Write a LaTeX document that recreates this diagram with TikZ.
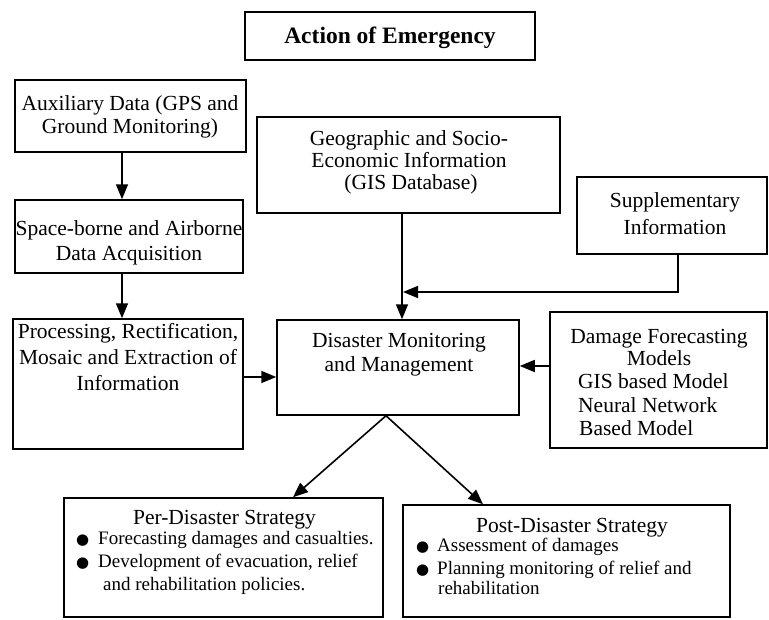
\documentclass[tikz,border=0pt]{standalone}
\usepackage{fontspec}
\setmainfont{Liberation Serif}
\newfontfamily\dejavu{DejaVu Sans}
\usetikzlibrary{arrows.meta}
\newcommand\fa{\fontsize{21.5}{23}\selectfont}
\newcommand\fhd{\fontsize{23.5}{25}\selectfont\bfseries}
\newcommand\fb{\fontsize{19}{22}\selectfont}
\newcommand\bul[1]{\makebox[#1][l]{\dejavu\fontsize{15}{15}\selectfont ●}}
\begin{document}
\begin{tikzpicture}[x=1pt,y=-1pt,
  box/.style={draw,line width=1.5pt,inner sep=0pt,rectangle},
  arr/.style={line width=1.6pt,-{Triangle[length=15pt,width=12pt]}},
  txt/.style={inner sep=0pt,font=\fa,anchor=base},
  ltxt/.style={inner sep=0pt,font=\fa,anchor=base west},
  btxt/.style={inner sep=0pt,font=\fb,anchor=base west}]
\fill[white] (0,0) rectangle (769,619);
\useasboundingbox (0,0) rectangle (769,619);

% boxes
\node[box,minimum width=290pt,minimum height=48pt] (act) at (390,36) {};
\node[box,minimum width=231pt,minimum height=72pt] (aux) at (130.5,116) {};
\node[box,minimum width=228pt,minimum height=73pt] (space) at (129,236.5) {};
\node[box,minimum width=303pt,minimum height=96pt] (geo) at (408.5,165) {};
\node[box,minimum width=190pt,minimum height=77pt] (supp) at (672,215.5) {};
\node[box,minimum width=217pt,minimum height=136pt] (dam) at (658.5,380) {};
\node[box,minimum width=230pt,minimum height=130pt] (proc) at (128,384) {};
\node[box,minimum width=242pt,minimum height=95pt] (dis) at (398,367.5) {};
\node[box,minimum width=319pt,minimum height=119pt] (per) at (223.5,557.5) {};
\node[box,minimum width=327pt,minimum height=112pt] (post) at (566.5,561) {};

% texts
\node[txt,font=\fhd] (tact) at (390,43) {Action of Emergency};
\node[txt] (taux1) at (130,110) {Auxiliary Data (GPS and};
\node[txt] (taux2) at (130,133) {Ground Monitoring)};
\node[txt] (tspa1) at (129,235) {Space-borne and Airborne};
\node[txt] (tspa2) at (129,260) {Data Acquisition};
\node[txt] (tgeo1) at (409,145) {Geographic and Socio-};
\node[txt] (tgeo2) at (409,167) {Economic Information};
\node[txt] (tgeo3) at (411,189) {(GIS Database)};
\node[txt] (tsup1) at (675,207) {Supplementary};
\node[txt] (tsup2) at (675,234) {Information};
\node[txt] (tpro1) at (128,338) {Processing, Rectification,};
\node[txt] (tpro2) at (128,364) {Mosaic and Extraction of};
\node[txt] (tpro3) at (128,390) {Information};
\node[txt] (tdis1) at (399,347) {Disaster Monitoring};
\node[txt] (tdis2) at (399,371) {and Management};
\node[txt] (tdam1) at (659,343) {Damage Forecasting};
\node[txt] (tdam2) at (659,365) {Models};
\node[ltxt] (tdam3) at (578,388) {GIS based Model};
\node[ltxt] (tdam4) at (578,412) {Neural Network};
\node[ltxt] (tdam5) at (579,435) {Based Model};
\node[txt] (tper0) at (224.5,524) {Per-Disaster Strategy};
\node[btxt] (tper1) at (76,544) {\bul{22pt}Forecasting damages and casualties.};
\node[btxt] (tper2) at (76,567) {\bul{22pt}Development of evacuation, relief};
\node[btxt] (tper3) at (103,590) {and rehabilitation policies.};
\node[txt] (tpos0) at (572,532) {Post-Disaster Strategy};
\node[btxt] (tpos1) at (416,551) {\bul{21pt}Assessment of damages};
\node[btxt] (tpos2) at (416,574) {\bul{21pt}Planning monitoring of relief and};
\node[btxt] (tpos3) at (438,594) {rehabilitation};

% connectors
\draw[arr] ([xshift=-8.5pt]aux.south) -- ([xshift=-8.5pt]aux.south |- space.north);
\draw[arr] ([xshift=-7pt]space.south) -- ([xshift=-7pt]space.south |- proc.north);
\draw[arr] ([xshift=-6.5pt]geo.south) -- ([xshift=-6.5pt]geo.south |- dis.north);
\coordinate (j) at (403,292);
\draw[arr] ([xshift=6pt]supp.south) |- (j);
\draw[arr] ([yshift=7pt]proc.east) -- ([yshift=7pt]proc.east -| dis.west);
\draw[arr] ([yshift=14pt]dam.west) -- ([yshift=14pt]dam.west -| dis.east);
\coordinate (d) at ([xshift=-12pt]dis.south);
\draw[arr] (d) -- ([xshift=69.5pt]per.north);
\draw[arr] (d) -- ([xshift=-83.5pt]post.north);
\end{tikzpicture}
\end{document}
